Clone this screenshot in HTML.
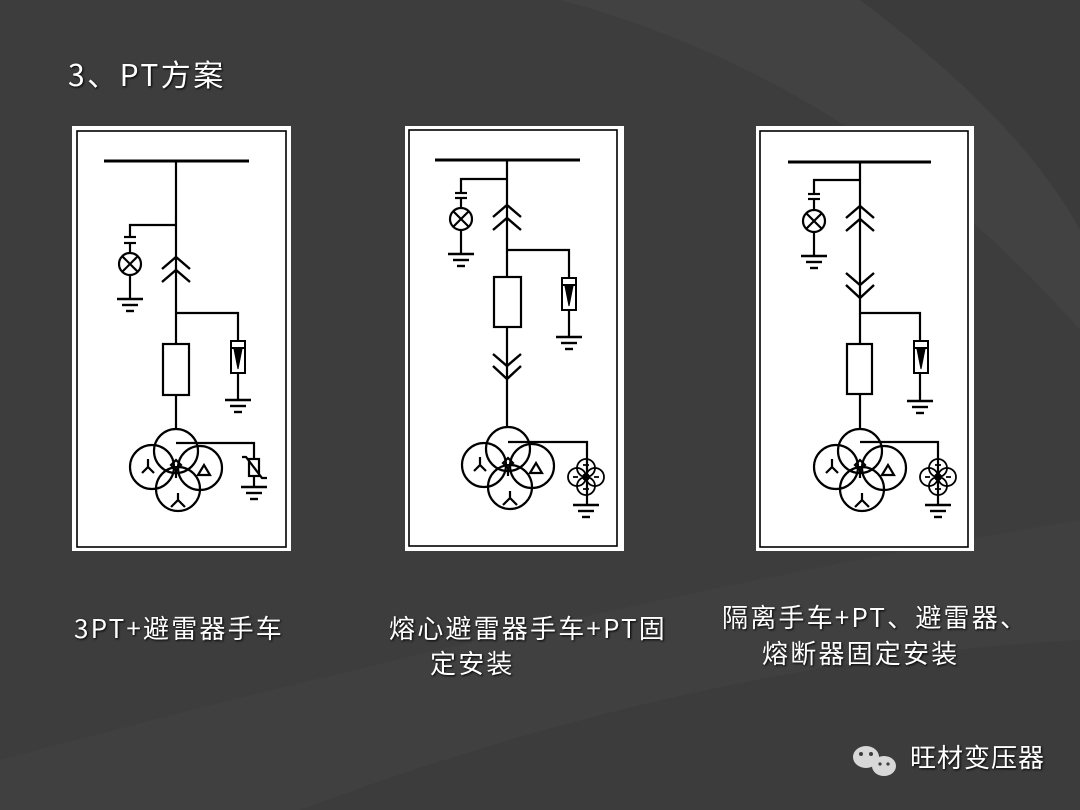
<!DOCTYPE html>
<html><head><meta charset="utf-8"><style>
html,body{margin:0;padding:0}
body{width:1080px;height:810px;overflow:hidden;background:#3d3d3d;position:relative;font-family:"Noto Sans CJK SC","Liberation Sans",sans-serif;color:#fff}
.t{position:absolute;white-space:nowrap;font-size:26px;letter-spacing:2.2px;text-shadow:1px 1px 2px #000;line-height:1}
svg{position:absolute;left:0;top:0}
</style></head><body>
<svg width="1080" height="810">
<defs>
<g id="gnd" stroke="#000" stroke-width="2.4"><line x1="-13" y1="0" x2="13" y2="0"/><line x1="-8" y1="6" x2="8" y2="6"/><line x1="-4" y1="12" x2="4" y2="12"/></g>
<g id="lamp" stroke="#000" stroke-width="2.2" fill="#fff"><circle r="11"/><line x1="-7.5" y1="-7.5" x2="7.5" y2="7.5"/><line x1="-7.5" y1="7.5" x2="7.5" y2="-7.5"/></g>
<g id="up" stroke="#000" stroke-width="2.4" fill="none"><polyline points="-14,12 0,0 14,12"/><polyline points="-14,25 0,13 14,25"/></g>
<g id="dn" stroke="#000" stroke-width="2.4" fill="none"><polyline points="-14,0 0,12 14,0"/><polyline points="-14,12 0,25 14,12"/></g>
<g id="arr" stroke="#000" stroke-width="2" fill="#fff"><rect x="-7" y="0" width="14" height="32"/><line x1="-7" y1="7" x2="7" y2="7"/><polygon points="-4,8 4,8 0,28" fill="#000" stroke-width="1"/></g>
<g id="tr" stroke="#000" stroke-width="2.2" fill="none">
<circle cx="0" cy="0" r="22"/><circle cx="-24" cy="16" r="22"/><circle cx="24" cy="17" r="22"/><circle cx="2" cy="38" r="22"/>
<path d="M-5,14 L0,9 L5,14 L0,19Z"/><path d="M-3,22 h6 M0,19 v8"/>
<path d="M-28,8 v8 l-6,6 M-28,16 l6,6"/>
<path d="M22,24 l6,-10 l6,10 z"/>
<path d="M2,42 v7 l-7,7 M2,49 l7,7"/>
</g>
<g id="pt" stroke="#000" stroke-width="1.8" fill="none"><circle cx="0" cy="-9" r="9"/><circle cx="0" cy="9" r="9"/><circle cx="-9" cy="0" r="9"/><circle cx="9" cy="0" r="9"/><path d="M-3,-12h6 M-3,12h6 M-13,0h5 M8,0h5"/><circle r="3" fill="#000"/></g>
</defs>
<path d="M560,0 Q860,80 1080,330 L1080,0Z" fill="#424242"/>
<path d="M860,0 Q1020,120 1080,230 L1080,0Z" fill="#3b3b3b"/>
<path d="M0,810 L0,760 Q600,600 1080,520 L1080,810Z" fill="#404040"/>
<path d="M300,810 Q700,660 1080,640 L1080,810Z" fill="#3c3c3c"/>

<g transform="translate(72,126)" stroke="#000" stroke-width="2.2" fill="none">
<rect x="0" y="0" width="219" height="425" fill="#fff" stroke="none"/>
<rect x="5" y="5" width="209" height="416" stroke-width="1.6"/>
<line x1="32" y1="35" x2="177" y2="35" stroke-width="3"/>
<line x1="104" y1="35" x2="104" y2="303"/>
<polyline points="104,99 58,99 58,111"/>
<line x1="52" y1="111" x2="64" y2="111"/><line x1="52" y1="117" x2="64" y2="117"/>
<line x1="58" y1="117" x2="58" y2="173"/>
<use href="#lamp" x="58" y="138"/><use href="#gnd" x="58" y="173"/>
<use href="#up" x="104" y="131"/>
<polyline points="104,187 166,187 166,274"/>
<use href="#arr" x="166" y="215"/><use href="#gnd" x="166" y="274"/>
<rect x="91" y="218" width="26" height="51" fill="#fff"/>
<use href="#tr" x="104" y="325"/>
<polyline points="104,317 182,317 182,361"/>
<rect x="177" y="333" width="10" height="17" fill="#fff"/>
<polyline points="170,331 174,331 190,352 195,352"/>
<use href="#gnd" x="182" y="361"/>
</g>

<g transform="translate(405,126)" stroke="#000" stroke-width="2.2" fill="none">
<rect x="0" y="0" width="219" height="425" fill="#fff" stroke="none"/>
<rect x="4" y="4" width="208" height="416" stroke-width="1.6"/>
<line x1="30" y1="34" x2="175" y2="34" stroke-width="3"/>
<line x1="102" y1="34" x2="102" y2="301"/>
<polyline points="102,53 56,53 56,67"/>
<line x1="50" y1="67" x2="62" y2="67"/><line x1="50" y1="72" x2="62" y2="72"/>
<line x1="56" y1="72" x2="56" y2="128"/>
<use href="#lamp" x="56" y="93"/><use href="#gnd" x="56" y="128"/>
<use href="#up" x="102" y="79"/>
<polyline points="102,124 164,124 164,211"/>
<use href="#arr" x="164" y="152"/><use href="#gnd" x="164" y="211"/>
<rect x="89" y="151" width="27" height="50" fill="#fff"/>
<use href="#dn" x="102" y="228"/>
<use href="#tr" x="103" y="323"/>
<polyline points="103,316 182,316 182,379"/>
<use href="#pt" x="181" y="351"/>
<use href="#gnd" x="181" y="379"/>
</g>

<g transform="translate(756,126)" stroke="#000" stroke-width="2.2" fill="none">
<rect x="0" y="0" width="218" height="425" fill="#fff" stroke="none"/>
<rect x="4" y="5" width="208" height="416" stroke-width="1.6"/>
<line x1="32" y1="36" x2="175" y2="36" stroke-width="3"/>
<line x1="104" y1="36" x2="104" y2="303"/>
<polyline points="104,54 58,54 58,68"/>
<line x1="52" y1="68" x2="64" y2="68"/><line x1="52" y1="73" x2="64" y2="73"/>
<line x1="58" y1="73" x2="58" y2="130"/>
<use href="#lamp" x="58" y="95"/><use href="#gnd" x="58" y="130"/>
<use href="#up" x="104" y="80"/>
<use href="#dn" x="104" y="147"/>
<polyline points="104,187 164,187 164,275"/>
<use href="#arr" x="165" y="215"/><use href="#gnd" x="164" y="275"/>
<rect x="91" y="218" width="25" height="50" fill="#fff"/>
<use href="#tr" x="104" y="325"/>
<polyline points="104,316 182,316 182,379"/>
<use href="#pt" x="182" y="351"/>
<use href="#gnd" x="182" y="379"/>
</g>

<g fill="#d8d8d8"><ellipse cx="866" cy="757" rx="13" ry="11"/><ellipse cx="884" cy="766" rx="12" ry="10"/></g>
<g fill="#3d3d3d"><circle cx="861" cy="754" r="2"/><circle cx="871" cy="754" r="2"/><circle cx="880" cy="764" r="1.6"/><circle cx="888" cy="764" r="1.6"/></g>
</svg>
<div class="t" style="left:68px;top:58px;font-size:30px;letter-spacing:2.5px">3、PT方案</div>
<div class="t" style="left:74px;top:615px">3PT+避雷器手车</div>
<div class="t" style="left:389px;top:615px">熔心避雷器手车+PT固</div>
<div class="t" style="left:430px;top:650px">定安装</div>
<div class="t" style="left:722px;top:604px">隔离手车+PT、避雷器、</div>
<div class="t" style="left:762px;top:640px">熔断器固定安装</div>
<div class="t" style="left:910px;top:744px;font-size:26px;letter-spacing:1px">旺材变压器</div>
</body></html>
